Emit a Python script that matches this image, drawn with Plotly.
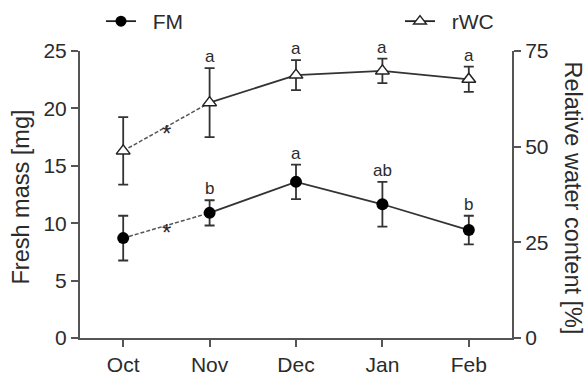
import plotly.graph_objects as go

months = ["Oct", "Nov", "Dec", "Jan", "Feb"]
fm_mean = [8.7, 10.9, 13.6, 11.65, 9.4]
fm_err = [1.95, 1.1, 1.5, 1.95, 1.25]
rwc_mean = [48.9, 61.5, 68.7, 69.8, 67.6]
rwc_err = [8.8, 9.0, 3.9, 3.2, 3.3]
fm_letters = ["", "b", "a", "ab", "b"]
rwc_letters = ["", "a", "a", "a", "a"]

FONT = "Liberation Sans, Arial, sans-serif"
INK = "#2b2b2b"
AX = "#555555"
NB = "\u00a0"

fig = go.Figure()

# connecting lines: dashed Oct-Nov, solid Nov-Feb
fig.add_trace(go.Scatter(x=months[:2], y=fm_mean[:2], mode="lines",
                         line=dict(color="#555", width=1.5, dash="4px,2px"),
                         showlegend=False, yaxis="y"))
fig.add_trace(go.Scatter(x=months[1:], y=fm_mean[1:], mode="lines",
                         line=dict(color="#333", width=1.8),
                         showlegend=False, yaxis="y"))
fig.add_trace(go.Scatter(x=months[:2], y=rwc_mean[:2], mode="lines",
                         line=dict(color="#555", width=1.5, dash="4px,2px"),
                         showlegend=False, yaxis="y2"))
fig.add_trace(go.Scatter(x=months[1:], y=rwc_mean[1:], mode="lines",
                         line=dict(color="#333", width=1.8),
                         showlegend=False, yaxis="y2"))

# markers with error bars
fig.add_trace(go.Scatter(x=months, y=fm_mean, mode="markers",
                         marker=dict(symbol="circle", size=12, color="black",
                                     line=dict(color="black", width=0)),
                         error_y=dict(type="data", array=fm_err, visible=True,
                                      color="#333", thickness=1.8, width=5),
                         showlegend=False, yaxis="y"))
fig.add_trace(go.Scatter(x=months, y=rwc_mean, mode="markers",
                         marker=dict(symbol="triangle-up", size=12, color="white",
                                     line=dict(color="#222", width=1.5)),
                         error_y=dict(type="data", array=rwc_err, visible=True,
                                      color="#333", thickness=1.8, width=5),
                         showlegend=False, yaxis="y2"))

# legend entries
fig.add_trace(go.Scatter(x=[None], y=[None], mode="lines+markers", name=NB * 2 + "FM",
                         line=dict(color="#222", width=1.8),
                         marker=dict(symbol="circle", size=11, color="black"),
                         legend="legend"))
fig.add_trace(go.Scatter(x=[None], y=[None], mode="lines+markers", name=NB * 2 + "rWC",
                         line=dict(color="#222", width=1.8),
                         marker=dict(symbol="triangle-up", size=11, color="white",
                                     line=dict(color="#222", width=1.5)),
                         legend="legend2", yaxis="y2"))

annotations = []
for m, v, e, t in zip(months, fm_mean, fm_err, fm_letters):
    if t:
        annotations.append(dict(x=m, y=v + e, yref="y", xref="x", text=t,
                                showarrow=False, yanchor="bottom", yshift=0,
                                font=dict(size=17, color=INK, family=FONT)))
for m, v, e, t in zip(months, rwc_mean, rwc_err, rwc_letters):
    if t:
        annotations.append(dict(x=m, y=v + e, yref="y2", xref="x", text=t,
                                showarrow=False, yanchor="bottom", yshift=0,
                                font=dict(size=17, color=INK, family=FONT)))
# significance asterisks between Oct and Nov
annotations.append(dict(x=0.5, y=(fm_mean[0] + fm_mean[1]) / 2, xref="x", yref="y",
                        text="*", showarrow=False, yshift=-7,
                        font=dict(size=24, color=INK, family=FONT)))
annotations.append(dict(x=0.5, y=(rwc_mean[0] + rwc_mean[1]) / 2, xref="x", yref="y2",
                        text="*", showarrow=False, yshift=-7,
                        font=dict(size=24, color=INK, family=FONT)))
# axis titles
annotations.append(dict(x=0, y=0.5, xref="paper", yref="paper", xshift=-60, yshift=-3,
                        xanchor="center", yanchor="middle",
                        text="Fresh mass [mg]", textangle=-90, showarrow=False,
                        font=dict(size=23.5, color=INK, family=FONT)))
annotations.append(dict(x=1, y=0.5, xref="paper", yref="paper", xshift=61, yshift=-3,
                        xanchor="center", yanchor="middle",
                        text="Relative water content [%]", textangle=90, showarrow=False,
                        font=dict(size=23.5, color=INK, family=FONT)))

fig.update_layout(
    width=584, height=375,
    margin=dict(l=80, r=72, t=51, b=37, autoexpand=False),
    plot_bgcolor="white", paper_bgcolor="white",
    font=dict(family=FONT, size=21, color=INK),
    xaxis=dict(range=[-0.5, 4.5], showline=True, linecolor=AX, linewidth=2,
               ticks="outside", ticklen=7, tickwidth=2, tickcolor=AX,
               showgrid=False, zeroline=False,
               tickfont=dict(size=21, color=INK)),
    yaxis=dict(range=[0, 25], tickvals=[0, 5, 10, 15, 20, 25], showline=True,
               linecolor=AX, linewidth=2, ticks="outside", ticklen=7, tickwidth=2,
               tickcolor=AX, showgrid=False, zeroline=False,
               tickfont=dict(size=21, color=INK)),
    yaxis2=dict(range=[0, 75], tickvals=[0, 25, 50, 75], overlaying="y", side="right",
                showline=True, linecolor=AX, linewidth=2, ticks="outside", ticklen=7,
                tickwidth=2, tickcolor=AX, showgrid=False, zeroline=False,
                tickfont=dict(size=21, color=INK)),
    legend=dict(x=0.0486, y=1.1028, xref="paper", yref="paper", xanchor="left",
                yanchor="middle", font=dict(size=21, color=INK),
                bgcolor="rgba(0,0,0,0)"),
    legend2=dict(x=0.7407, y=1.1028, xref="paper", yref="paper", xanchor="left",
                 yanchor="middle", font=dict(size=21, color=INK),
                 bgcolor="rgba(0,0,0,0)"),
    annotations=annotations,
    showlegend=True,
)

fig.write_html("out.html", config={"displayModeBar": False},
               post_script="document.body.style.margin='0';document.body.style.overflow='hidden';")
